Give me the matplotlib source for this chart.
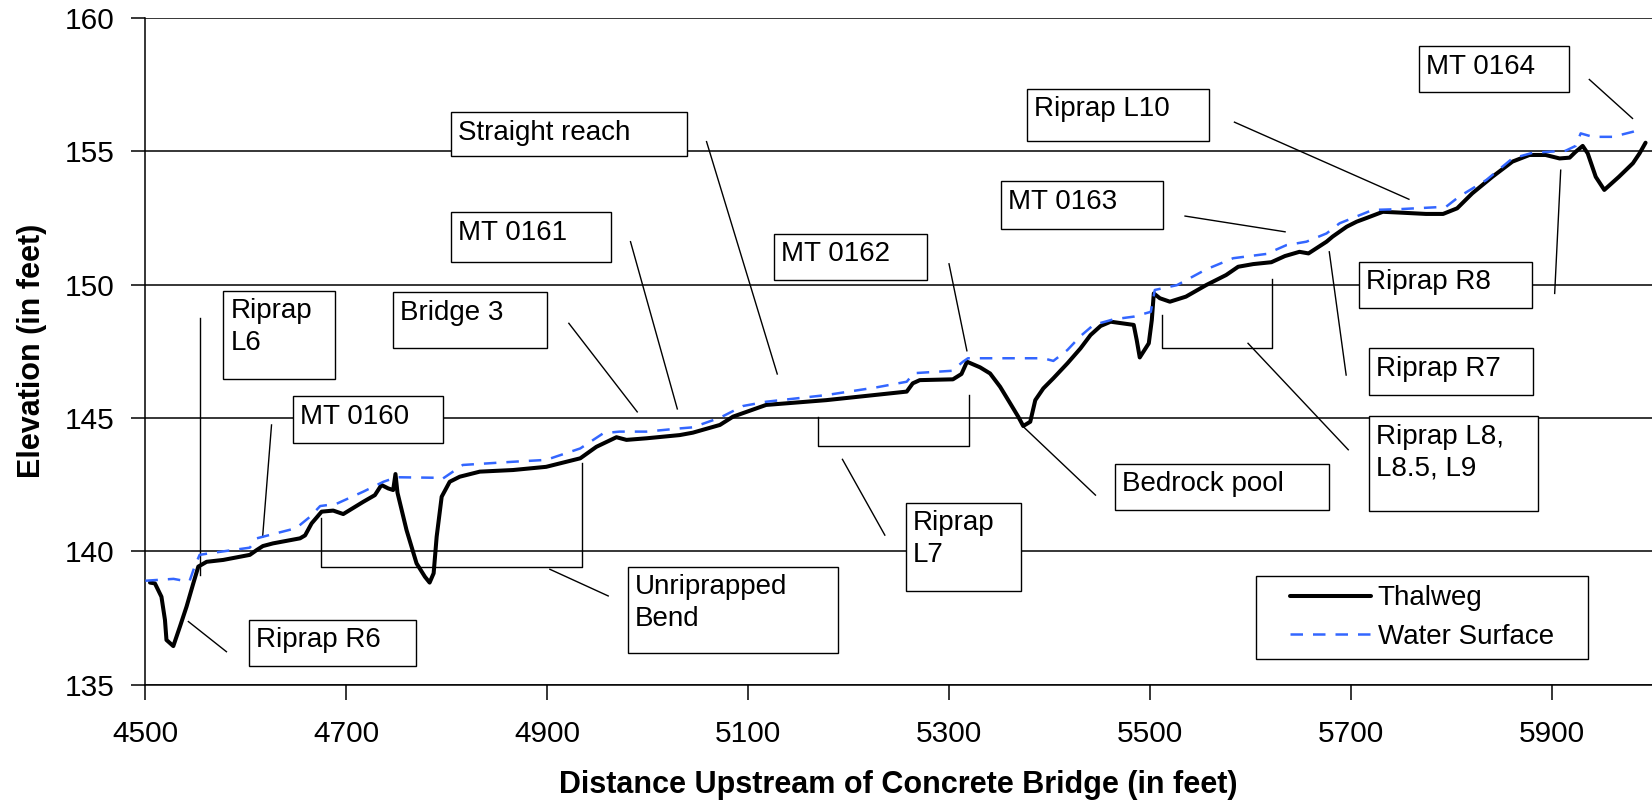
import matplotlib
matplotlib.use('Agg')
import matplotlib.pyplot as plt
from matplotlib.patches import Rectangle

plt.rcParams['font.family'] = ['Liberation Sans', 'DejaVu Sans']

# Thalweg profile (distance upstream in ft, elevation in ft)
thalweg_x = [4504.6, 4509.5, 4516, 4519.5, 4521, 4527.8, 4534.4, 4541, 4547.7, 4552.7,
             4561, 4577.5, 4604, 4610.8, 4617, 4627, 4654, 4659, 4665.5, 4675.5,
             4687, 4697, 4717, 4728.5, 4735, 4741.8, 4746.7, 4749, 4751, 4760,
             4770, 4778.3, 4783, 4787, 4790, 4795, 4803, 4813, 4833, 4866,
             4899, 4933, 4949, 4969, 4979, 4999, 5032, 5045, 5072, 5085,
             5118, 5178, 5258, 5264, 5271, 5304, 5312.5, 5318, 5331, 5341,
             5351, 5361, 5369, 5374, 5381, 5386, 5394, 5404, 5418, 5431,
             5441, 5451, 5461, 5484, 5487, 5490, 5499, 5502, 5504, 5510,
             5520, 5536, 5556, 5576, 5588, 5603, 5621, 5634.5, 5649, 5658,
             5676, 5682, 5696, 5706, 5716, 5732, 5749, 5775, 5792, 5806,
             5821, 5841, 5861, 5878, 5894, 5908, 5918, 5924, 5931, 5936,
             5944, 5952.5, 5967, 5981, 5987.6, 5993.6]
thalweg_y = [138.83, 138.80, 138.30, 137.43, 136.68, 136.45, 137.18, 137.93, 138.80, 139.43,
             139.61, 139.68, 139.87, 140.05, 140.20, 140.30, 140.49, 140.60, 141.05, 141.49,
             141.53, 141.40, 141.86, 142.11, 142.49, 142.36, 142.30, 142.90, 142.20, 140.80,
             139.55, 139.05, 138.83, 139.18, 140.55, 142.05, 142.61, 142.80, 142.99, 143.05,
             143.17, 143.49, 143.92, 144.28, 144.18, 144.24, 144.36, 144.45, 144.74, 145.05,
             145.49, 145.67, 145.99, 146.30, 146.42, 146.45, 146.65, 147.11, 146.90, 146.67,
             146.17, 145.55, 145.05, 144.70, 144.86, 145.67, 146.11, 146.49, 147.05, 147.61,
             148.11, 148.45, 148.61, 148.49, 147.92, 147.27, 147.80, 148.67, 149.67, 149.49,
             149.36, 149.55, 149.98, 150.36, 150.67, 150.77, 150.84, 151.07, 151.23, 151.17,
             151.61, 151.80, 152.17, 152.36, 152.50, 152.73, 152.70, 152.65, 152.65, 152.86,
             153.42, 154.04, 154.61, 154.86, 154.86, 154.73, 154.76, 154.98, 155.20, 154.92,
             154.04, 153.55, 154.04, 154.55, 154.92, 155.32]

# Water surface profile
water_x = [4500, 4528, 4538, 4544, 4549, 4554, 4564, 4604, 4611, 4617,
           4650, 4664, 4674, 4690, 4717, 4737, 4750, 4790, 4795, 4816,
           4866, 4899, 4933, 4956, 4972, 4999, 5032, 5045, 5072, 5095,
           5118, 5178, 5228, 5258, 5265, 5303, 5314, 5319, 5394, 5404,
           5418, 5431, 5444, 5464, 5484, 5501, 5505, 5527, 5556, 5583,
           5616, 5636, 5656, 5676, 5689, 5722, 5749, 5795, 5808, 5835,
           5861, 5881, 5914, 5924, 5929, 5941, 5961, 5981, 5991]
water_y = [138.90, 138.97, 138.90, 138.89, 139.43, 139.87, 139.93, 140.14, 140.49, 140.55,
           140.87, 141.30, 141.70, 141.78, 142.24, 142.61, 142.78, 142.76, 142.70, 143.24,
           143.36, 143.43, 143.86, 144.43, 144.49, 144.49, 144.61, 144.65, 145.01, 145.45,
           145.61, 145.86, 146.15, 146.36, 146.68, 146.77, 147.11, 147.24, 147.24, 147.14,
           147.55, 148.07, 148.49, 148.70, 148.80, 148.98, 149.80, 149.98, 150.57, 150.99,
           151.15, 151.48, 151.61, 151.92, 152.30, 152.80, 152.83, 152.92, 153.30, 153.92,
           154.73, 154.94, 155.02, 155.20, 155.67, 155.54, 155.54, 155.73, 155.86]

x_ticks = list(range(4500, 6000, 200))
y_ticks = list(range(135, 161, 5))

# callout labels: text, box (x0, x1, y0, y1), leader / bracket polylines
callouts = [
    ("Riprap R6", (4603, 4769, 135.70, 137.43), [[(4542.8, 137.37), (4580.7, 136.24)]]),
    ("Unriprapped\nBend", (4980.3, 5190.0, 136.18, 139.42),
     [[(4674.5, 141.26), (4674.5, 139.41), (4935.2, 139.41), (4935.2, 143.30)],
      [(4902.7, 139.33), (4960.8, 138.33)]]),
    ("Riprap\nL6", (4577.6, 4688.8, 146.45, 149.77), [[(4554.5, 148.74), (4554.5, 139.11)]]),
    ("MT 0160", (4646.6, 4795.9, 144.05, 145.82), [[(4625.6, 144.74), (4616.7, 140.53)]]),
    ("Bridge 3", (4746.1, 4899.4, 147.61, 149.72), [[(4921.6, 148.55), (4989.7, 145.23)]]),
    ("MT 0161", (4803.9, 4963.4, 150.85, 152.72), [[(4983.0, 151.61), (5029.6, 145.34)]]),
    ("Straight reach", (4804.1, 5039.0, 154.84, 156.46), [[(5058.7, 155.36), (5129.1, 146.65)]]),
    ("MT 0162", (5126.1, 5278.1, 150.16, 151.90), [[(5300.1, 150.78), (5317.9, 147.52)]]),
    ("Riprap\nL7", (5257.1, 5371.4, 138.51, 141.83),
     [[(5169.8, 145.05), (5169.8, 143.95), (5320.0, 143.95), (5320.0, 145.86)],
      [(5194.0, 143.45), (5236.2, 140.61)]]),
    ("Bedrock pool", (5465.1, 5678.7, 141.56, 143.28), [[(5373.9, 144.68), (5445.9, 142.11)]]),
    ("Riprap L8,\nL8.5, L9", (5718.2, 5886.3, 141.52, 145.07),
     [[(5512.6, 148.86), (5512.6, 147.64), (5622.1, 147.64), (5622.1, 150.21)],
      [(5597.8, 147.80), (5697.6, 143.81)]]),
    ("Riprap R7", (5718.2, 5881.1, 145.86, 147.61), [[(5678.7, 151.23), (5695.5, 146.61)]]),
    ("Riprap R8", (5708.0, 5880.8, 149.13, 150.85), [[(5909.1, 154.29), (5903.1, 149.67)]]),
    ("MT 0163", (5351.6, 5513.1, 152.10, 153.87), [[(5535.1, 152.57), (5634.7, 151.98)]]),
    ("Riprap L10", (5377.8, 5559.2, 155.38, 157.35), [[(5584.3, 156.09), (5758.0, 153.20)]]),
    ("MT 0164", (5767.6, 5917.0, 157.23, 158.93), [[(5937.6, 157.69), (5980.6, 156.23)]]),
]

legend_box = (5606.1, 5936.1, 135.96, 139.09)

fig = plt.figure(figsize=(16.52, 8.08), dpi=100)
ax = fig.add_axes([0.0880, 0.1525, 0.9120, 0.8254])

ax.plot(thalweg_x, thalweg_y, color='black', lw=2.9, solid_joinstyle='round',
        solid_capstyle='round', label='Thalweg', zorder=3)
ax.plot(water_x, water_y, color='#3366FF', lw=1.8, ls=(0, (5, 4)),
        label='Water Surface', zorder=3)

# callout boxes and leader lines
for text, (x0, x1, y0, y1), lines in callouts:
    for pts in lines:
        xs = [p[0] for p in pts]
        ys = [p[1] for p in pts]
        ax.plot(xs, ys, color='black', lw=1.0, zorder=2.5)
    ax.add_patch(Rectangle((x0, y0), x1 - x0, y1 - y0, facecolor='white',
                           edgecolor='black', lw=1.0, zorder=4))
    ax.text(x0 + 7, y1 - 0.28, text, fontsize=20, ha='left', va='top',
            linespacing=1.3, zorder=5)

# legend with a square frame
lx0, lx1, ly0, ly1 = legend_box
ax.add_patch(Rectangle((lx0, ly0), lx1 - lx0, ly1 - ly0, facecolor='white',
                       edgecolor='black', lw=1.0, zorder=4))
leg = ax.legend(loc='center', bbox_to_anchor=((lx0 + lx1) / 2, (ly0 + ly1) / 2),
                bbox_transform=ax.transData, frameon=False, fontsize=20,
                handlelength=2.9, handletextpad=0.25, labelspacing=0.44,
                borderpad=0.1)
leg.set_zorder(5)

ax.set_xlim(4500, 6000)
ax.set_ylim(135, 160)
ax.set_xticks(x_ticks)
ax.set_yticks(y_ticks)
ax.set_axisbelow(True)
ax.yaxis.grid(True, color='black', lw=1.1)
ax.spines['top'].set_visible(False)
ax.spines['right'].set_visible(False)
ax.spines['left'].set_linewidth(1.1)
ax.spines['bottom'].set_linewidth(1.1)
ax.tick_params(axis='both', direction='out', width=1.1, labelsize=21.5)
ax.tick_params(axis='x', length=11, pad=14)
ax.tick_params(axis='y', length=10, pad=12)

ax.set_xlabel("Distance Upstream of Concrete Bridge (in feet)", fontsize=22, fontweight='bold')
ax.set_ylabel("Elevation (in feet)", fontsize=22, fontweight='bold')
ax.xaxis.label.set_va('center')
ax.yaxis.label.set_va('center')
ax.xaxis.set_label_coords(0.5, -0.1502)
ax.yaxis.set_label_coords(-0.0755, 0.5)

fig.savefig('out.png', dpi=100)
